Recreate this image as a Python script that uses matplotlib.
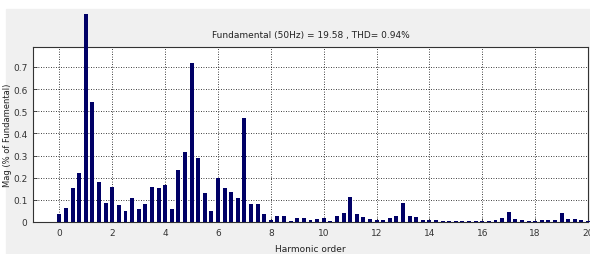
import matplotlib
matplotlib.use("Agg")
import matplotlib.pyplot as plt
import numpy as np

# harmonic order axis (0 .. 20, step 0.25) and magnitudes in % of fundamental
orders = np.arange(0, 20.01, 0.25)
mags = [
    0.038, 0.064, 0.155, 0.220, 0.940, 0.543, 0.179, 0.086,   # 0 - 1.75
    0.156, 0.076, 0.048, 0.109, 0.058, 0.083, 0.156, 0.152,   # 2 - 3.75
    0.167, 0.058, 0.235, 0.318, 0.720, 0.288, 0.133, 0.050,   # 4 - 5.75
    0.200, 0.152, 0.136, 0.110, 0.468, 0.083, 0.080, 0.038,   # 6 - 7.75
    0.011, 0.029, 0.025, 0.003, 0.019, 0.019, 0.007, 0.015,   # 8 - 9.75
    0.018, 0.006, 0.025, 0.040, 0.113, 0.036, 0.021, 0.015,   # 10 - 11.75
    0.009, 0.009, 0.018, 0.026, 0.086, 0.026, 0.021, 0.011,   # 12 - 13.75
    0.011, 0.009, 0.006, 0.006, 0.006, 0.006, 0.005, 0.006,   # 14 - 15.75
    0.006, 0.005, 0.011, 0.018, 0.044, 0.015, 0.009, 0.003,   # 16 - 17.75
    0.003, 0.008, 0.011, 0.011, 0.039, 0.015, 0.015, 0.008,   # 18 - 19.75
    0.005,                                                    # 20
]
xticks = [0, 2, 4, 6, 8, 10, 12, 14, 16, 18, 20]
yticks = [0, 0.1, 0.2, 0.3, 0.4, 0.5, 0.6, 0.7]
title = "Fundamental (50Hz) = 19.58 , THD= 0.94%"

font = ["Liberation Sans Narrow", "DejaVu Sans"]
plt.rcParams["font.family"] = font

fig = plt.figure(figsize=(5.9, 2.55), dpi=100, facecolor="white")
# grey figure panel like the MATLAB window
panel = plt.Rectangle((6 / 590, 0), 1, 1 - 10 / 255,
                      transform=fig.transFigure, color="#f0f0f0", zorder=-10)
fig.add_artist(panel)

ax = fig.add_axes([33 / 590, 1 - 223 / 255, 555 / 590, 175 / 255])
ax.set_zorder(5)
ax.set_facecolor("white")
bars = ax.bar(orders, mags, width=0.15, color="#000066", zorder=3)
for b in bars:
    b.set_clip_on(False)

ax.set_xlim(-1, 20)
ax.set_ylim(0, 0.79)
ax.set_xticks(xticks)
ax.set_yticks(yticks)
ax.set_xticklabels([str(t) for t in xticks])
ax.set_yticklabels(["0"] + ["%.1f" % t for t in yticks[1:]])
ax.grid(True, color="black", linestyle=(0, (1, 2)), linewidth=0.6)
ax.set_axisbelow(True)
ax.tick_params(direction="in", length=3, width=0.6, labelsize=6.5,
               colors="#333333", pad=4)
for s in ax.spines.values():
    s.set_linewidth(0.8)
    s.set_color("#333333")

ax.set_title(title, fontsize=6.5, pad=7, color="#222222")
ax.set_xlabel("Harmonic order", fontsize=6.5, color="#222222")
ax.set_ylabel("Mag (% of Fundamental)", fontsize=6, color="#222222",
              family=["DejaVu Sans"])
ax.yaxis.set_label_coords(-0.038, 0.5)
ax.xaxis.set_label_coords(0.5, -0.126)

fig.savefig("out.png", dpi=100, facecolor=fig.get_facecolor())
